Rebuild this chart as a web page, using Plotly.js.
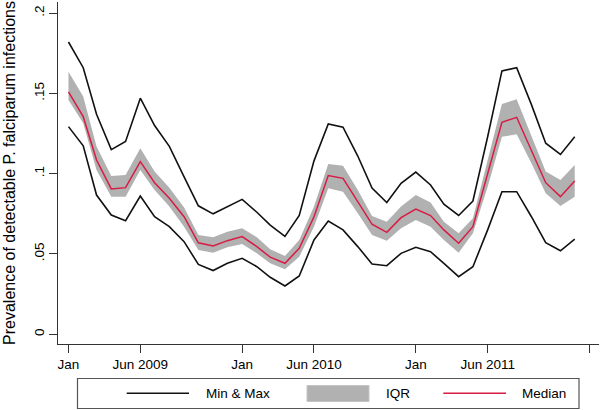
<!DOCTYPE html>
<html>
<head>
<meta charset="utf-8">
<script src="https://cdn.plot.ly/plotly-3.0.1.min.js"></script>
<style>html,body{margin:0;padding:0;background:#fff;}#chart{width:600px;height:410px;}</style>
</head>
<body>
<div id="chart"></div>
<script>
var months = ["2009-01-01","2009-02-01","2009-03-01","2009-04-01","2009-05-01","2009-06-01",
  "2009-07-01","2009-08-01","2009-09-01","2009-10-01","2009-11-01","2009-12-01",
  "2010-01-01","2010-02-01","2010-03-01","2010-04-01","2010-05-01","2010-06-01",
  "2010-07-01","2010-08-01","2010-09-01","2010-10-01","2010-11-01","2010-12-01",
  "2011-01-01","2011-02-01","2011-03-01","2011-04-01","2011-05-01","2011-06-01",
  "2011-07-01","2011-08-01","2011-09-01","2011-10-01","2011-11-01","2011-12-01"];

var maxV = [0.182,0.166,0.137,0.115,0.120,0.147,0.130,0.117,0.098,0.080,0.075,0.0795,
  0.084,0.076,0.068,0.061,0.074,0.108,0.131,0.129,0.111,0.091,0.082,0.094,
  0.101,0.093,0.081,0.074,0.083,0.123,0.164,0.166,0.143,0.119,0.112,0.123];

var q3V = [0.1635,0.148,0.117,0.0986,0.0992,0.1158,0.1013,0.0913,0.079,0.0618,0.0604,0.0639,
  0.066,0.0604,0.0529,0.0488,0.0587,0.0795,0.106,0.105,0.0898,0.0737,0.0701,0.0795,
  0.0867,0.082,0.0701,0.0629,0.0722,0.1075,0.1434,0.1463,0.123,0.1013,0.0961,0.1054];

var medV = [0.151,0.1355,0.1085,0.0905,0.0913,0.1075,0.0944,0.0847,0.0732,0.057,0.055,0.0583,
  0.0608,0.0546,0.048,0.0442,0.0535,0.0732,0.0988,0.0971,0.0826,0.0685,0.0635,0.0726,
  0.078,0.0739,0.065,0.0567,0.067,0.0996,0.132,0.1351,0.1148,0.0944,0.0857,0.0955];

var q1V = [0.1459,0.1314,0.1023,0.0857,0.0857,0.1023,0.0898,0.0795,0.067,0.0525,0.0508,0.0542,
  0.0562,0.0504,0.0442,0.0405,0.0483,0.067,0.0909,0.0888,0.0753,0.0618,0.0583,0.066,
  0.0712,0.067,0.0587,0.0508,0.0629,0.0919,0.123,0.1245,0.1065,0.0878,0.0799,0.0857];

var minV = [0.1293,0.1174,0.0867,0.0743,0.0707,0.0861,0.0732,0.067,0.0577,0.0435,0.0397,0.0442,
  0.0473,0.0421,0.0355,0.0301,0.0363,0.0587,0.0705,0.065,0.0546,0.0438,0.0427,0.0504,
  0.0542,0.0514,0.0442,0.0359,0.0421,0.065,0.0888,0.0888,0.0732,0.057,0.052,0.0592];

var xTickVals = ["2009-01-01","2009-06-01","2010-01-01","2010-06-01","2011-01-01","2011-06-01","2012-01-01"];
var xTickText = ["Jan","Jun 2009","Jan","Jun 2010","Jan","Jun 2011","Jan"];
var yTickVals = [0,0.05,0.1,0.15,0.2];
var yTickText = ["0",".05",".1",".15",".2"];
var legendLabels = ["Min & Max","IQR","Median"];

var FONT = "Liberation Sans, Arial, sans-serif";
var RED = "#d81b43", GRAY = "#b1b1b1";

var traces = [
  {x: months, y: q1V, type: "scatter", mode: "lines", line: {width: 0, color: GRAY}, hoverinfo: "skip", showlegend: false},
  {x: months, y: q3V, type: "scatter", mode: "lines", fill: "tonexty", fillcolor: GRAY, line: {width: 0, color: GRAY}, showlegend: false},
  {x: months, y: maxV, type: "scatter", mode: "lines", line: {width: 1.6, color: "#111"}, showlegend: false},
  {x: months, y: minV, type: "scatter", mode: "lines", line: {width: 1.6, color: "#111"}, showlegend: false},
  {x: months, y: medV, type: "scatter", mode: "lines", line: {width: 1.5, color: RED}, showlegend: false}
];

// plot area in px: x 58..599, y 2..344
function px(v){ return (v-58)/541; }
function py(v){ return (344-v)/342; }

var shapes = [
  {type: "rect", xref: "paper", yref: "paper", x0: px(77.5), x1: px(579), y0: py(378.5), y1: py(408.5),
   line: {color: "#555", width: 1.2}, fillcolor: "rgba(0,0,0,0)"},
  {type: "line", xref: "paper", yref: "paper", x0: px(126.7), x1: px(189), y0: py(393.3), y1: py(393.3),
   line: {color: "#111", width: 1.6}},
  {type: "rect", xref: "paper", yref: "paper", x0: px(307), x1: px(369), y0: py(385.5), y1: py(401.5),
   line: {color: "#c4c4c4", width: 1}, fillcolor: GRAY},
  {type: "line", xref: "paper", yref: "paper", x0: px(443.3), x1: px(506), y0: py(393.3), y1: py(393.3),
   line: {color: RED, width: 1.5}}
];

var annotations = [
  {xref: "paper", yref: "paper", x: px(203.5), y: py(393.3), xanchor: "left", yanchor: "middle", showarrow: false,
   text: legendLabels[0], font: {family: FONT, size: 13.5, color: "#000"}},
  {xref: "paper", yref: "paper", x: px(383.5), y: py(393.3), xanchor: "left", yanchor: "middle", showarrow: false,
   text: legendLabels[1], font: {family: FONT, size: 13.5, color: "#000"}},
  {xref: "paper", yref: "paper", x: px(519.5), y: py(393.3), xanchor: "left", yanchor: "middle", showarrow: false,
   text: legendLabels[2], font: {family: FONT, size: 13.5, color: "#000"}}
];

var layout = {
  width: 600, height: 410,
  margin: {l: 58, r: 1, t: 2, b: 66, pad: 0},
  paper_bgcolor: "#fff", plot_bgcolor: "#fff",
  font: {family: FONT, size: 13.5, color: "#000"},
  showlegend: false,
  xaxis: {
    type: "date",
    range: ["2008-12-10", "2012-01-21"],
    tickmode: "array", tickvals: xTickVals, ticktext: xTickText,
    ticks: "outside", ticklen: 8, tickwidth: 1, tickcolor: "#333",
    showline: true, linecolor: "#333", linewidth: 1,
    showgrid: false, zeroline: false,
    tickfont: {family: FONT, size: 13.5, color: "#000"}
  },
  yaxis: {
    range: [-0.00604, 0.2069],
    tickmode: "array", tickvals: yTickVals, ticktext: yTickText,
    tickangle: -90,
    ticks: "outside", ticklen: 8, tickwidth: 1, tickcolor: "#333",
    showline: true, linecolor: "#333", linewidth: 1,
    showgrid: false, zeroline: false,
    tickfont: {family: FONT, size: 13.5, color: "#000"},
    title: {text: "Prevalence of detectable P. falciparum infections", font: {family: FONT, size: 16, color: "#000"}, standoff: 11}
  },
  shapes: shapes,
  annotations: annotations
};

Plotly.newPlot("chart", traces, layout, {staticPlot: true, displayModeBar: false});
</script>
</body>
</html>
